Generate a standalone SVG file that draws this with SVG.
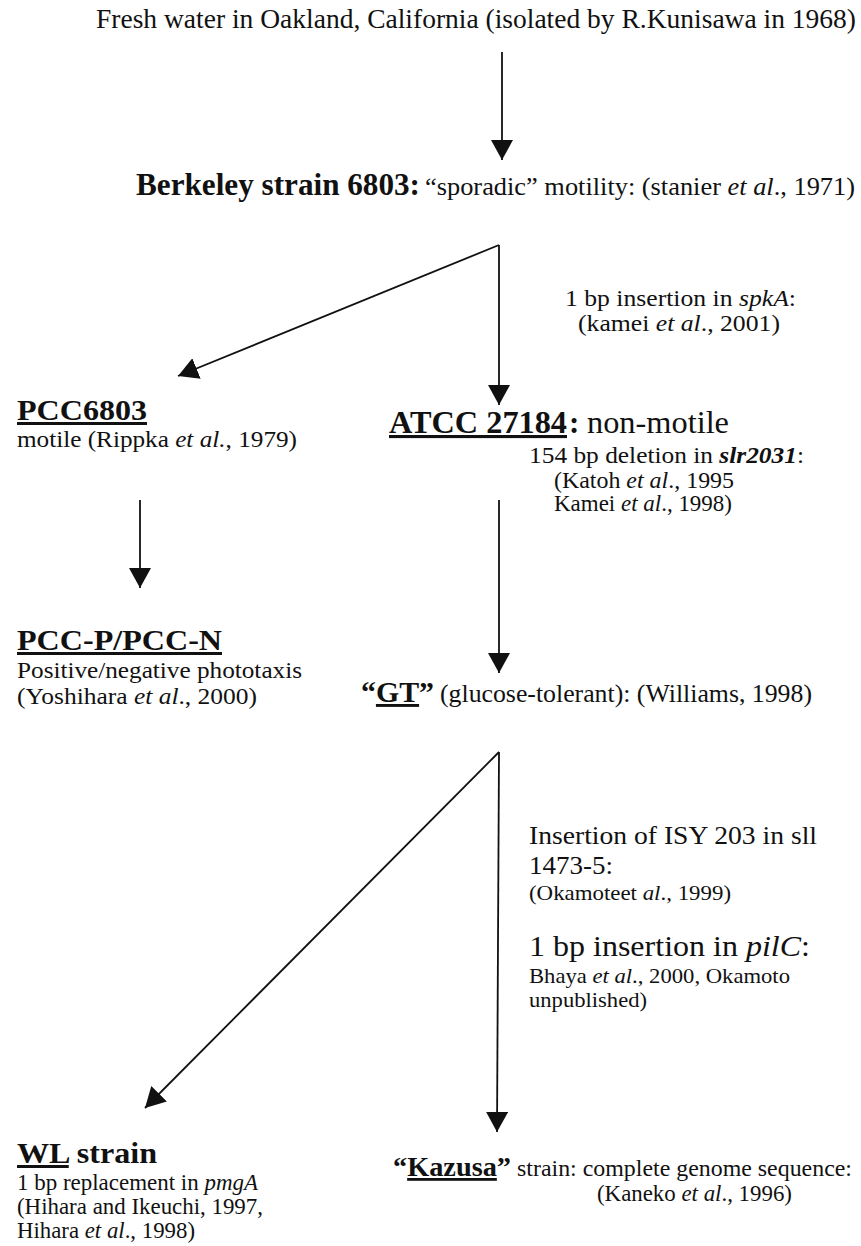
<svg xmlns="http://www.w3.org/2000/svg" width="861" height="1246" viewBox="0 0 861 1246" font-family="'Liberation Serif', 'Times New Roman', serif">
<defs>
<style>
text{font-family:'Liberation Serif','Times New Roman',serif;fill:#111;}
.b{font-weight:bold;}
.i{font-style:italic;}
.u{text-decoration:underline;}
.ln{stroke:#111;stroke-width:1.8;fill:none;}
</style>
<marker id="ah" viewBox="0 0 20 22" refX="20" refY="11" markerWidth="20" markerHeight="22" markerUnits="userSpaceOnUse" orient="auto">
<path d="M0,0 L20,11 L0,22 z" fill="#111"/>
</marker>
</defs>
<rect width="861" height="1246" fill="#fff"/>
<g id="connectors">
<line class="ln" x1="502" y1="52" x2="502" y2="160" marker-end="url(#ah)"/>
<line class="ln" x1="499" y1="245" x2="178" y2="376" marker-end="url(#ah)"/>
<line class="ln" x1="499" y1="245" x2="499" y2="405" marker-end="url(#ah)"/>
<line class="ln" x1="140" y1="500" x2="140" y2="588" marker-end="url(#ah)"/>
<line class="ln" x1="499" y1="500" x2="499" y2="673" marker-end="url(#ah)"/>
<line class="ln" x1="499" y1="752" x2="145" y2="1108" marker-end="url(#ah)"/>
<line class="ln" x1="499" y1="752" x2="497" y2="1132" marker-end="url(#ah)"/>
</g>
<g id="source">
<text x="96" y="28" font-size="27.5" textLength="760" lengthAdjust="spacingAndGlyphs">Fresh water in Oakland, California (isolated by R.Kunisawa in 1968)</text>
</g>
<g id="berkeley">
<text class="b" x="136" y="195" font-size="31" textLength="284" lengthAdjust="spacingAndGlyphs">Berkeley strain 6803:</text>
<text x="425" y="195" font-size="26" textLength="430" lengthAdjust="spacingAndGlyphs">“sporadic” motility: (stanier <tspan class="i">et al</tspan>., 1971)</text>
</g>
<g id="label-spkA">
<text x="565" y="306" font-size="22.5" textLength="231" lengthAdjust="spacingAndGlyphs">1 bp insertion in <tspan class="i">spkA</tspan>:</text>
<text x="578" y="331" font-size="22.5" textLength="202" lengthAdjust="spacingAndGlyphs">(kamei <tspan class="i">et al</tspan>., 2001)</text>
</g>
<g id="pcc6803">
<text class="b u" x="17" y="420" font-size="30" textLength="130" lengthAdjust="spacingAndGlyphs">PCC6803</text>
<text x="17" y="447" font-size="24" textLength="280" lengthAdjust="spacingAndGlyphs">motile (Rippka <tspan class="i">et al.</tspan>, 1979)</text>
</g>
<g id="atcc">
<text class="b u" x="389" y="433" font-size="31" textLength="178" lengthAdjust="spacingAndGlyphs">ATCC 27184</text>
<text class="b" x="569" y="433" font-size="31">:</text>
<text x="587" y="433" font-size="31" textLength="142" lengthAdjust="spacingAndGlyphs">non-motile</text>
<text x="529" y="463" font-size="24" textLength="275" lengthAdjust="spacingAndGlyphs">154 bp deletion in  <tspan class="i b">slr2031</tspan>:</text>
<text x="554" y="488" font-size="23" textLength="180" lengthAdjust="spacingAndGlyphs">(Katoh <tspan class="i">et al</tspan>., 1995</text>
<text x="554" y="511" font-size="23" textLength="178" lengthAdjust="spacingAndGlyphs">Kamei <tspan class="i">et al</tspan>., 1998)</text>
</g>
<g id="pccpn">
<text class="b u" x="17" y="650" font-size="30" textLength="205" lengthAdjust="spacingAndGlyphs">PCC-P/PCC-N</text>
<text x="17" y="678" font-size="24" textLength="285" lengthAdjust="spacingAndGlyphs">Positive/negative phototaxis</text>
<text x="17" y="704" font-size="24" textLength="240" lengthAdjust="spacingAndGlyphs">(Yoshihara <tspan class="i">et al</tspan>., 2000)</text>
</g>
<g id="gt">
<text class="b" x="361" y="702" font-size="29" textLength="73" lengthAdjust="spacingAndGlyphs">“<tspan class="u">GT</tspan>”</text>
<text x="440" y="702" font-size="25.5" textLength="372" lengthAdjust="spacingAndGlyphs">(glucose-tolerant): (Williams, 1998)</text>
</g>
<g id="label-isy">
<text x="529" y="844" font-size="26" textLength="288" lengthAdjust="spacingAndGlyphs">Insertion of ISY 203 in sll</text>
<text x="529" y="874" font-size="26" textLength="84" lengthAdjust="spacingAndGlyphs">1473-5:</text>
<text x="529" y="900" font-size="22" textLength="202" lengthAdjust="spacingAndGlyphs">(Okamoteet <tspan class="i">al</tspan>., 1999)</text>
<text x="529" y="956" font-size="29" textLength="281" lengthAdjust="spacingAndGlyphs">1 bp insertion in <tspan class="i">pilC</tspan>:</text>
<text x="529" y="983" font-size="22" textLength="261" lengthAdjust="spacingAndGlyphs">Bhaya <tspan class="i">et al</tspan>., 2000, Okamoto</text>
<text x="529" y="1007" font-size="22" textLength="118" lengthAdjust="spacingAndGlyphs">unpublished)</text>
</g>
<g id="wl">
<text class="b" x="17" y="1163" font-size="30" textLength="140" lengthAdjust="spacingAndGlyphs"><tspan class="u">WL</tspan> strain</text>
<text x="17" y="1190" font-size="23" textLength="241" lengthAdjust="spacingAndGlyphs">1 bp replacement in <tspan class="i">pmgA</tspan></text>
<text x="17" y="1214" font-size="23" textLength="246" lengthAdjust="spacingAndGlyphs">(Hihara and Ikeuchi, 1997,</text>
<text x="17" y="1238" font-size="23" textLength="178" lengthAdjust="spacingAndGlyphs">Hihara <tspan class="i">et al</tspan>., 1998)</text>
</g>
<g id="kazusa">
<text class="b" x="393" y="1176" font-size="28" textLength="118" lengthAdjust="spacingAndGlyphs">“<tspan class="u">Kazusa</tspan>”</text>
<text x="517" y="1176" font-size="23.5" textLength="335" lengthAdjust="spacingAndGlyphs">strain: complete genome sequence:</text>
<text x="597" y="1201" font-size="23" textLength="195" lengthAdjust="spacingAndGlyphs">(Kaneko <tspan class="i">et al</tspan>., 1996)</text>
</g>
</svg>
